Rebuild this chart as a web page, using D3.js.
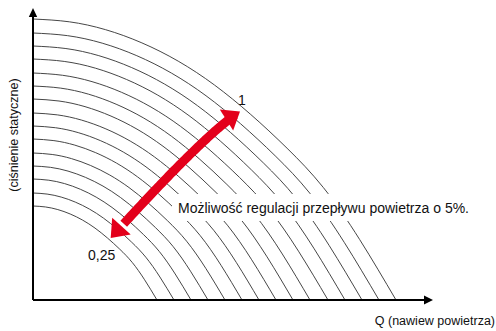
<!DOCTYPE html>
<html><head><meta charset="utf-8">
<script src="https://cdn.jsdelivr.net/npm/d3@7"></script>
<style>
html,body{margin:0;padding:0;background:#fff;}
svg{display:block;font-family:"Liberation Sans",Arial,Helvetica,sans-serif;}
</style></head>
<body>
<svg id="chart" width="496" height="331"></svg>
<script>
// Fan curves: maximum flow (Q at zero pressure) and maximum pressure (at zero flow), in chart units
const curveMaxFlow = [124, 141, 158, 175, 192, 209, 226, 243, 260, 277, 295, 312, 329, 346, 363];
const curveMaxPressure = [94, 107, 121, 134, 147, 161, 174, 187, 201, 214, 227, 241, 254, 267, 281];
// Normalized curve shape (fraction of max flow -> fraction of max pressure)
const shapeQ = [0, 0.1, 0.2, 0.3, 0.4, 0.5, 0.6, 0.7, 0.8, 0.9, 1];
const shapeP = [1, 0.99, 0.962, 0.915, 0.85, 0.765, 0.66, 0.54, 0.40, 0.215, 0];
// Regulation arrow: from "0,25" point to "1" point (chart units), with control point
const arrowFrom = [77.7, 62];
const arrowCtrl = [173, 167];
const arrowTo = [207, 188.5];
const labelLow = "0,25";
const labelHigh = "1";
const noteText = "Możliwość regulacji przepływu powietrza o 5%.";
const xTitle = "Q (nawiew powietrza)";
const yTitle = "(ciśnienie statyczne)";

const svg = d3.select("#chart");
const x = d3.scaleLinear().domain([0, 400]).range([33, 433]);
const y = d3.scaleLinear().domain([0, 292]).range([300, 8]);

// Curves
const line = d3.line().x(d => x(d[0])).y(d => y(d[1])).curve(d3.curveNatural);
const curves = curveMaxFlow.map((w, i) => shapeQ.map((q, j) => [q * w, shapeP[j] * curveMaxPressure[i]]));
svg.append("g").selectAll("path").data(curves).join("path")
  .attr("d", line).attr("fill", "none").attr("stroke", "#3c3c3c").attr("stroke-width", 0.95);

// Note text with white background
const noteG = svg.append("g");
const noteRect = noteG.append("rect").attr("fill", "#fff");
const note = noteG.append("text").attr("x", 178).attr("y", 213).attr("font-size", 14).attr("fill", "#111").text(noteText);
const bb = note.node().getBBox();
noteRect.attr("x", bb.x - 6).attr("y", 194).attr("width", bb.width + 10).attr("height", 27);

// Axes
const axisG = svg.append("g");
axisG.append("line").attr("x1", x(0)).attr("x2", x(392)).attr("y1", y(0)).attr("y2", y(0))
  .attr("stroke", "#000").attr("stroke-width", 2);
axisG.append("line").attr("x1", x(0)).attr("x2", x(0)).attr("y1", y(0)).attr("y2", y(283))
  .attr("stroke", "#000").attr("stroke-width", 2);
axisG.append("path").attr("fill", "#000")
  .attr("d", `M${x(400)},${y(0)} L${x(391)},${y(0) - 4.5} L${x(391)},${y(0) + 4.5} Z`);
axisG.append("path").attr("fill", "#000")
  .attr("d", `M${x(0)},${y(292)} L${x(0) - 4.2},${y(283)} L${x(0) + 4.2},${y(283)} Z`);

svg.append("text").attr("x", 495).attr("y", 325).attr("text-anchor", "end")
  .attr("font-size", 12.5).attr("fill", "#111").text(xTitle);
svg.append("text").attr("transform", "translate(18,135) rotate(-90)").attr("text-anchor", "middle")
  .attr("font-size", 12.5).attr("fill", "#111").text(yTitle);

// Red double arrow
const P0 = [x(arrowFrom[0]), y(arrowFrom[1])];
const C = [x(arrowCtrl[0]), y(arrowCtrl[1])];
const P2 = [x(arrowTo[0]), y(arrowTo[1])];
function bez(t) {
  const a = (1 - t) * (1 - t), b = 2 * (1 - t) * t, c = t * t;
  return [a * P0[0] + b * C[0] + c * P2[0], a * P0[1] + b * C[1] + c * P2[1]];
}
const red = "#e3001b";
const bodyPts = d3.range(0.07, 0.935, 0.01).map(bez);
svg.append("path").attr("d", d3.line()(bodyPts)).attr("fill", "none")
  .attr("stroke", red).attr("stroke-width", 9);
function head(tip, from, len, hw) {
  const dx = tip[0] - from[0], dy = tip[1] - from[1];
  const L = Math.hypot(dx, dy), ux = dx / L, uy = dy / L;
  const bx = tip[0] - ux * len, by = tip[1] - uy * len;
  return `M${tip[0]},${tip[1]} L${bx - uy * hw},${by + ux * hw} L${bx + uy * hw},${by - ux * hw} Z`;
}
svg.append("path").attr("fill", red).attr("d", head(P2, C, 16, 12.5));
svg.append("path").attr("fill", red).attr("d", head(P0, C, 16, 12.5));

svg.append("text").attr("x", 238).attr("y", 105).attr("font-size", 14).attr("fill", "#111").text(labelHigh);
svg.append("text").attr("x", 88).attr("y", 260).attr("font-size", 14).attr("fill", "#111").text(labelLow);
</script>
</body></html>
